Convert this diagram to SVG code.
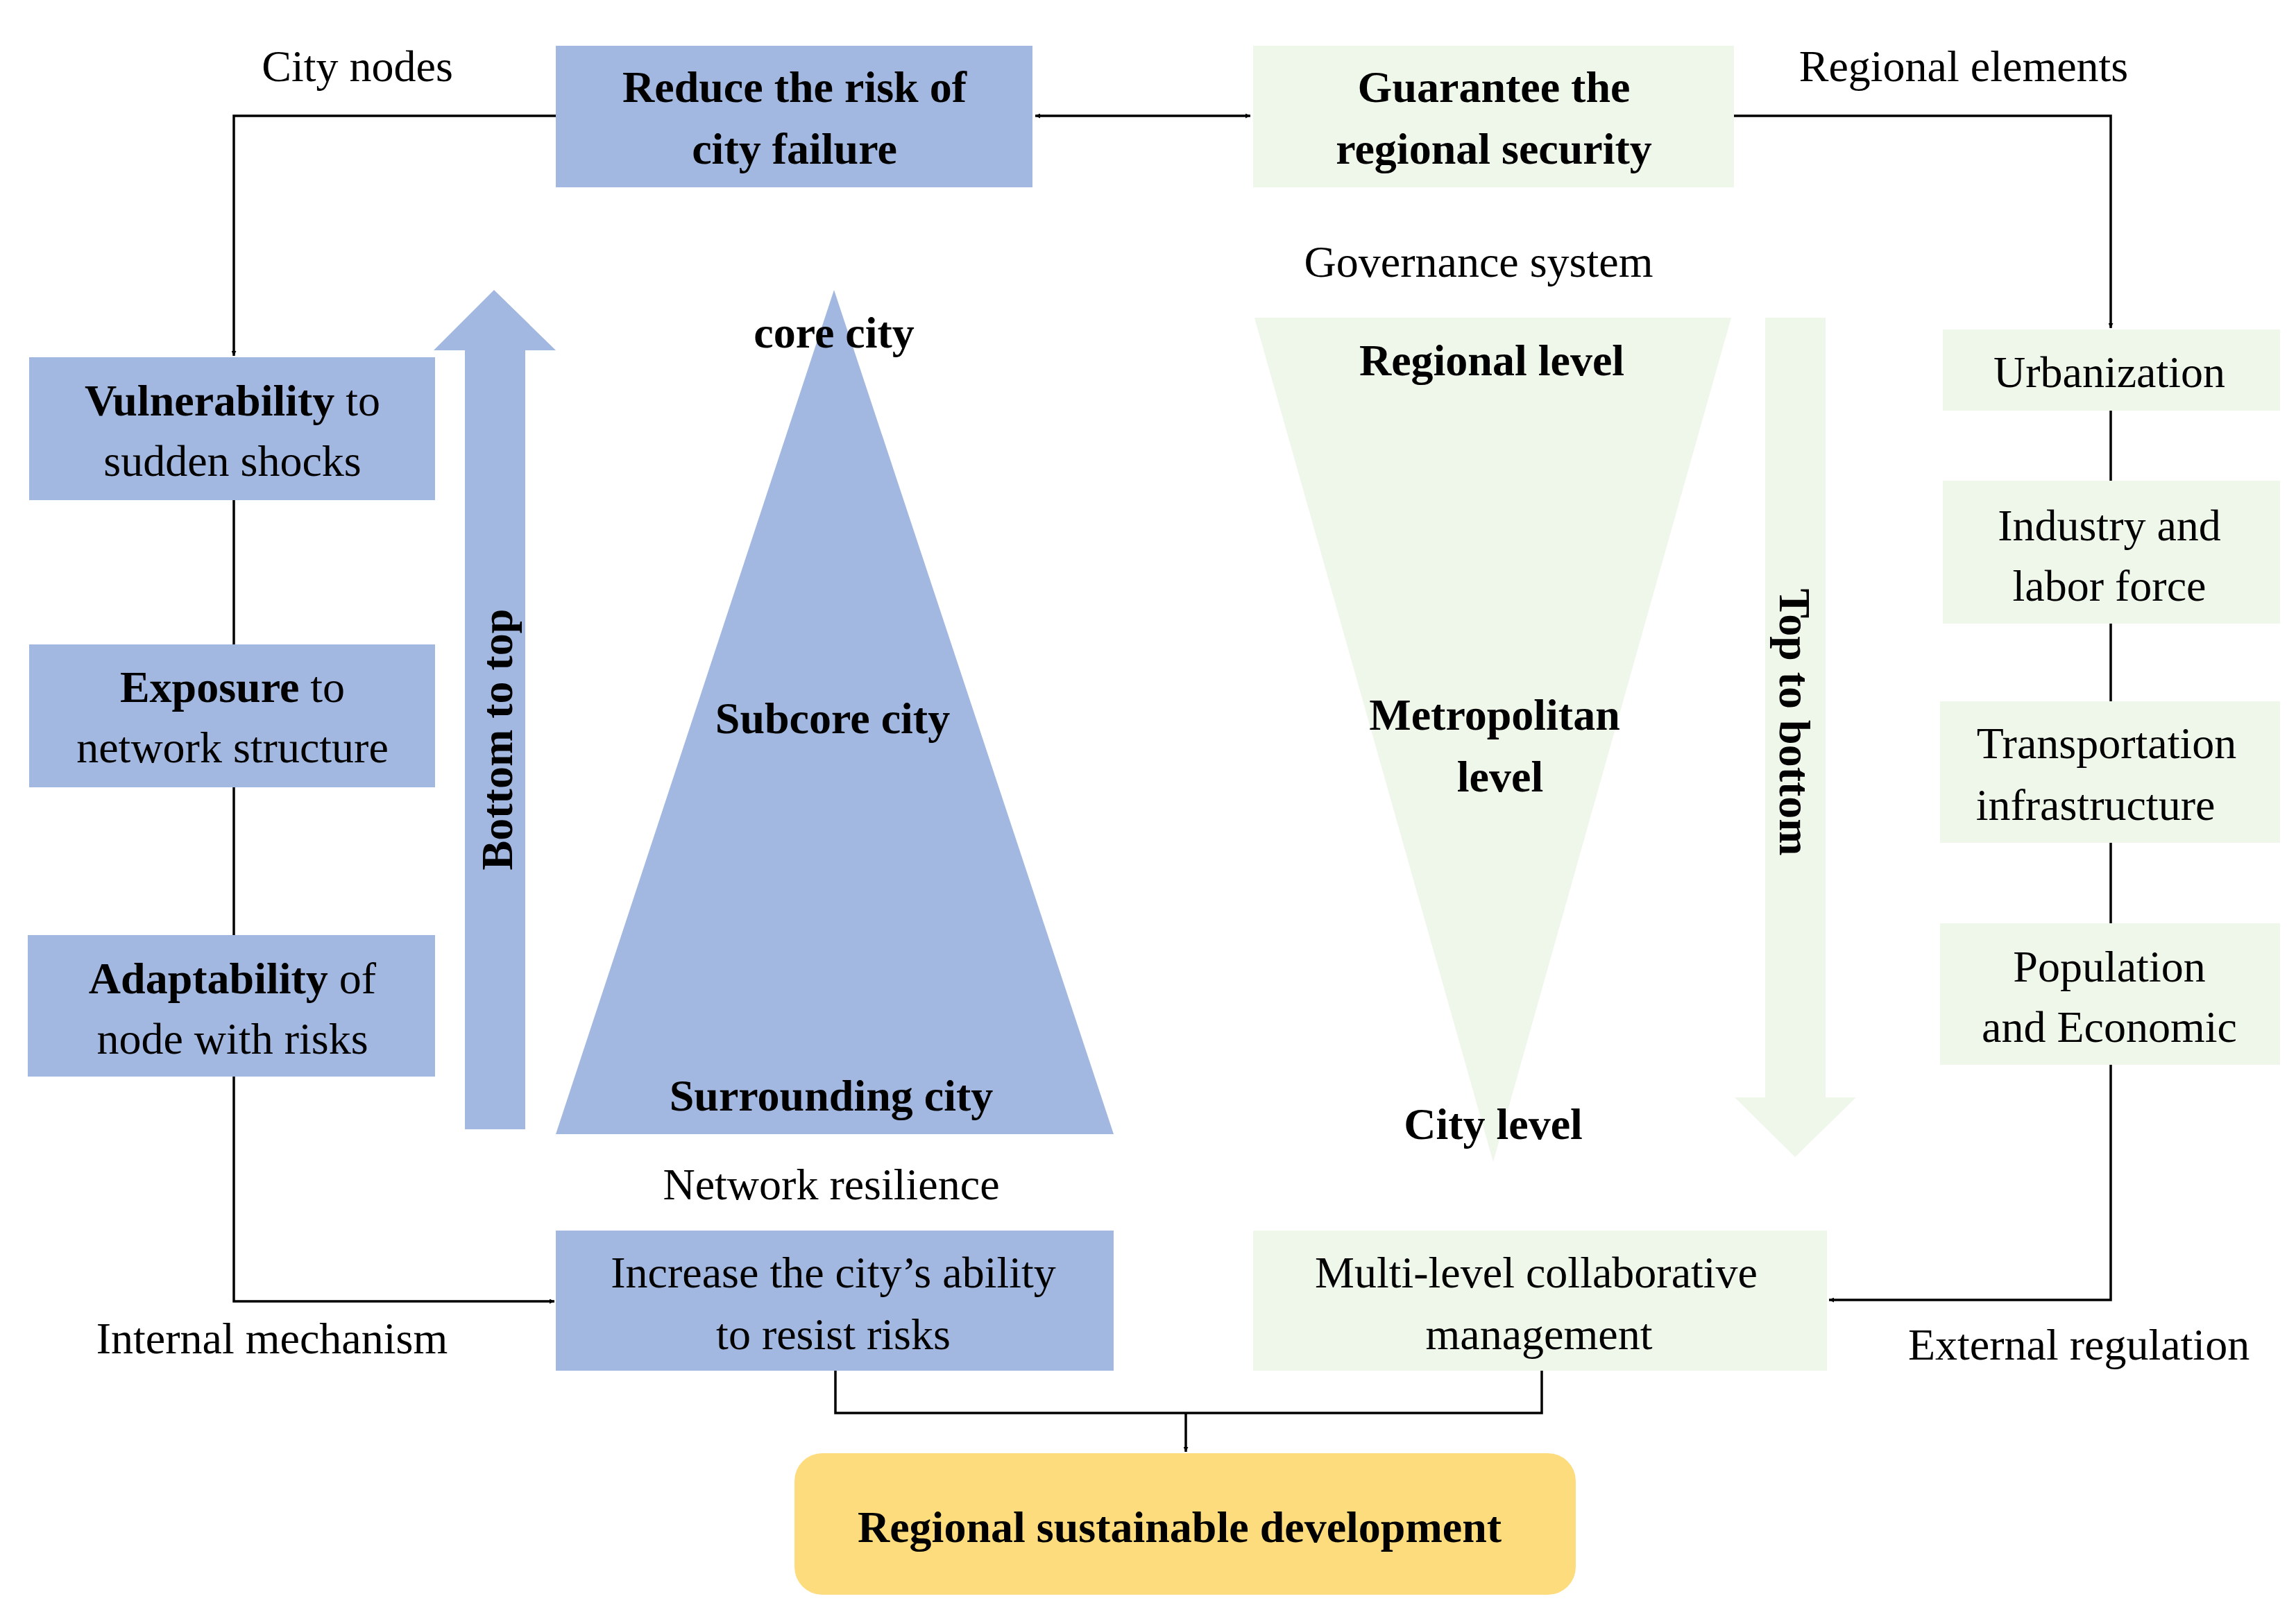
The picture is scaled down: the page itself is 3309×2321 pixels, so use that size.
<svg xmlns="http://www.w3.org/2000/svg" width="3309" height="2321" viewBox="0 0 3309 2321">
<style>
text{font-family:"Liberation Serif","Times New Roman",serif;font-size:64px;fill:#000;text-anchor:middle}
.b{font-weight:bold}
.blue{fill:#A2B8E0}
.green{fill:#EFF6EA}
.ln{fill:none;stroke:#000;stroke-width:3.5}
</style>
<defs>
<marker id="ah" viewBox="0 0 10 10" refX="10" refY="5" markerWidth="7" markerHeight="7" markerUnits="userSpaceOnUse" orient="auto-start-reverse">
<path d="M0,0 L10,5 L0,10 z" fill="#000"/>
</marker>
</defs>
<rect width="3309" height="2321" fill="#fff"/>
<g id="connectors">
<path class="ln" d="M1492,167 H1802" marker-start="url(#ah)" marker-end="url(#ah)" style="marker-start:url(#ah)"/>
<path class="ln" d="M801,167 H337 V513" marker-end="url(#ah)"/>
<path class="ln" d="M2499,167 H3042 V473" marker-end="url(#ah)"/>
<path class="ln" d="M337,721 V929 M337,1135 V1348"/>
<path class="ln" d="M337,1552 V1876 H799" marker-end="url(#ah)"/>
<path class="ln" d="M3042,592 V693 M3042,899 V1011 M3042,1215 V1331"/>
<path class="ln" d="M3042,1535 V1874 H2636" marker-end="url(#ah)"/>
<path class="ln" d="M1204,1976 V2037 H2222 V1976"/>
<path class="ln" d="M1709,2037 V2093" marker-end="url(#ah)"/>
</g>
<g id="labels">
<text x="515" y="117">City nodes</text>
<text x="2830" y="117">Regional elements</text>
<text x="392" y="1951">Internal mechanism</text>
<text x="2996" y="1960">External regulation</text>
<text x="1198" y="1729">Network resilience</text>
<text x="2131" y="399">Governance system</text>
</g>
<g id="reduce"><rect class="blue" x="801" y="66" width="687" height="204"/>
<text class="b" x="1145" y="147">Reduce the risk of</text><text class="b" x="1145" y="236">city failure</text></g>
<g id="guarantee"><rect class="green" x="1806" y="66" width="693" height="204"/>
<text class="b" x="2153" y="147">Guarantee the</text><text class="b" x="2153" y="236">regional security</text></g>
<g id="vulnerability"><rect class="blue" x="42" y="515" width="585" height="206"/>
<text x="335" y="599"><tspan class="b">Vulnerability</tspan>  to</text><text x="335" y="686">sudden shocks</text></g>
<g id="exposure"><rect class="blue" x="42" y="929" width="585" height="206"/>
<text x="335" y="1012"><tspan class="b">Exposure</tspan> to</text><text x="335" y="1099">network structure</text></g>
<g id="adaptability"><rect class="blue" x="40" y="1348" width="587" height="204"/>
<text x="335" y="1432"><tspan class="b">Adaptability</tspan> of</text><text x="335" y="1519">node with risks</text></g>
<g id="bottom-to-top">
<path class="blue" d="M670,1628 V505 H625 L712,418 L801,505 H757 V1628 Z"/>
<text class="b" transform="translate(738,1066) rotate(-90)">Bottom to top</text></g>
<g id="pyramid">
<path class="blue" d="M1202,418 L1605,1635 H801 Z"/>
<text class="b" x="1202" y="501">core city</text>
<text class="b" x="1200" y="1057">Subcore city</text>
<text class="b" x="1198" y="1601">Surrounding city</text></g>
<g id="increase"><rect class="blue" x="801" y="1774" width="804" height="202"/>
<text x="1201" y="1856">Increase the city’s ability</text><text x="1201" y="1945">to resist risks</text></g>
<g id="governance">
<path class="green" d="M1808,458 H2495 L2152,1675 Z"/>
<text class="b" x="2150" y="541">Regional level</text>
<text class="b" x="2154" y="1052">Metropolitan</text>
<text class="b" x="2162" y="1141">level</text>
<text class="b" x="2152" y="1642">City level</text></g>
<g id="top-to-bottom">
<path class="green" d="M2544,458 V1582 H2500 L2587,1668 L2675,1582 H2631 V458 Z"/>
<text class="b" transform="translate(2565,1041) rotate(90)">Top to bottom</text></g>
<g id="urbanization"><rect class="green" x="2800" y="475" width="486" height="117"/>
<text x="3040" y="558">Urbanization</text></g>
<g id="industry"><rect class="green" x="2800" y="693" width="486" height="206"/>
<text x="3040" y="779">Industry and</text><text x="3040" y="866">labor force</text></g>
<g id="transportation"><rect class="green" x="2796" y="1011" width="490" height="204"/>
<text x="3036" y="1093">Transportation</text><text x="3020" y="1182">infrastructure</text></g>
<g id="population"><rect class="green" x="2796" y="1331" width="490" height="204"/>
<text x="3040" y="1415">Population</text><text x="3040" y="1502">and Economic</text></g>
<g id="multilevel"><rect class="green" x="1806" y="1774" width="827" height="202"/>
<text x="2214" y="1856">Multi-level collaborative</text><text x="2218" y="1945">management</text></g>
<g id="sustainable"><rect x="1145" y="2095" width="1126" height="204" rx="40" fill="#FDDC7D"/>
<text class="b" x="1700" y="2223">Regional sustainable development</text></g>
</svg>
